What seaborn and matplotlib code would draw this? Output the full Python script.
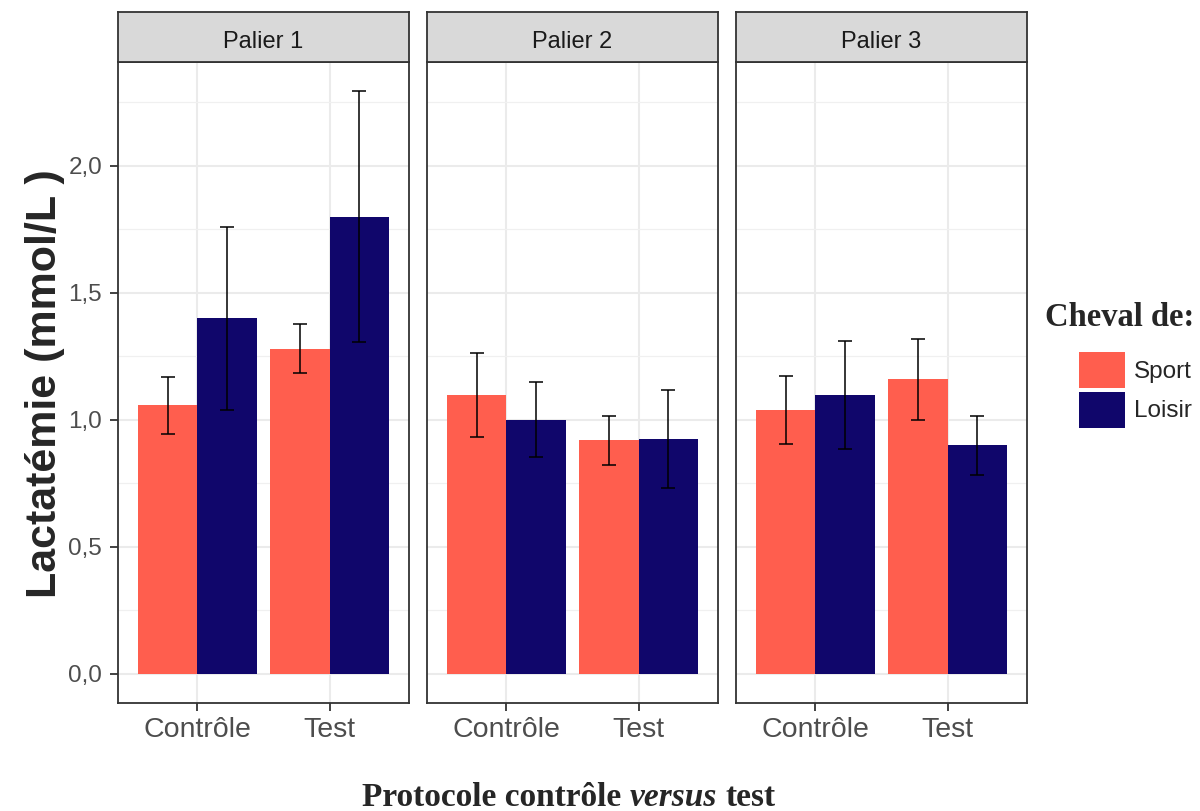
import pandas as pd
import matplotlib
matplotlib.use('Agg')
import matplotlib.pyplot as plt
import seaborn as sns
from matplotlib.patches import Patch
from matplotlib.ticker import MultipleLocator, FuncFormatter

paliers = ['Palier 1', 'Palier 2', 'Palier 3']
protocoles = ['Contrôle', 'Test']
chevaux = ['Sport', 'Loisir']

# one value per (palier, protocole): P1 ctrl, P1 test, P2 ctrl, P2 test, P3 ctrl, P3 test
sport_mean = [1.058, 1.280, 1.098, 0.920, 1.038, 1.160]
sport_err = [0.112, 0.096, 0.166, 0.097, 0.133, 0.159]
loisir_mean = [1.400, 1.800, 1.000, 0.925, 1.098, 0.899]
loisir_err = [0.360, 0.495, 0.148, 0.194, 0.211, 0.115]

rows = []
for k in range(6):
    pal = paliers[k // 2]
    prot = protocoles[k % 2]
    rows.append((pal, prot, 'Sport', sport_mean[k], sport_err[k]))
    rows.append((pal, prot, 'Loisir', loisir_mean[k], loisir_err[k]))
df = pd.DataFrame(rows, columns=['Palier', 'Protocole', 'Cheval', 'Lactatemie', 'Err'])

palette = {'Sport': '#FF5E4E', 'Loisir': '#10066B'}

sns.set_style('white')
plt.rcParams['font.family'] = ['Liberation Sans', 'DejaVu Sans']

W, H = 1200, 811
fig = plt.figure(figsize=(12, 8.11), dpi=100)

panel_x = [118, 427, 736]
panel_w = 291
panel_top, panel_bot = 62, 703
strip_top = 12

axes = []
for i, pal in enumerate(paliers):
    l = panel_x[i] / W
    ax = fig.add_axes([l, 1 - panel_bot / H, panel_w / W, (panel_bot - panel_top) / H])
    sub = df[df['Palier'] == pal]
    sns.barplot(data=sub, x='Protocole', y='Lactatemie', hue='Cheval', order=protocoles,
                hue_order=chevaux, palette=palette, errorbar=None, width=0.9,
                saturation=1, linewidth=0, legend=False, ax=ax, zorder=2)
    for cont, cheval in zip(ax.containers, chevaux):
        s = sub[sub['Cheval'] == cheval].set_index('Protocole').loc[protocoles]
        xs = [p.get_x() + p.get_width() / 2 for p in cont]
        ax.errorbar(xs, s['Lactatemie'], yerr=s['Err'], fmt='none', ecolor='black',
                    elinewidth=1.1, capsize=5, capthick=1.1, zorder=3)
    ax.set_xlim(-0.6, 1.6)
    ax.set_ylim(-0.115, 2.409)
    ax.yaxis.set_major_locator(MultipleLocator(0.5))
    ax.yaxis.set_minor_locator(MultipleLocator(0.25))
    ax.yaxis.set_major_formatter(FuncFormatter(lambda v, p: f'{v:.1f}'.replace('.', ',')))
    ax.set_axisbelow(True)
    ax.grid(which='major', axis='both', color='#EBEBEB', lw=1.5, zorder=0)
    ax.grid(which='minor', axis='y', color='#F0F0F0', lw=0.9, zorder=0)
    ax.set_xlabel('')
    ax.set_ylabel('')
    for sp in ax.spines.values():
        sp.set_visible(True)
        sp.set_color('#333333')
        sp.set_linewidth(1.3)
    ax.tick_params(axis='x', which='major', bottom=True, length=6, width=1.3,
                   color='#333333', labelcolor='#4D4D4D', labelsize=20.5, pad=4)
    ax.tick_params(axis='y', which='major', left=True, length=6, width=1.3,
                   color='#333333', labelcolor='#4D4D4D', labelsize=17.5, pad=5.5)
    ax.tick_params(axis='y', which='minor', left=False, length=0)
    if i > 0:
        ax.tick_params(axis='y', which='major', left=False, labelleft=False)
    axes.append(ax)

    sax = fig.add_axes([l, 1 - panel_top / H, panel_w / W, (panel_top - strip_top) / H])
    sax.set_facecolor('#D9D9D9')
    sax.set_xticks([])
    sax.set_yticks([])
    for sp in sax.spines.values():
        sp.set_color('#333333')
        sp.set_linewidth(1.3)
    sax.text(0.5, 0.28, pal, ha='center', va='baseline', fontsize=17, color='#1A1A1A',
             transform=sax.transAxes)

fig.text(45 / W, 1 - 384 / H, 'Lactatémie (mmol/L )', rotation=90, fontsize=31,
         fontweight='bold', ha='center', va='center')

serif = ['Liberation Serif', 'DejaVu Serif']
t1 = fig.text(362 / W, 1 - 797 / H, 'Protocole contrôle', family=serif, fontweight='bold',
              fontsize=24, ha='left', va='center')
t2 = axes[1].annotate('versus', xy=(1, 0.5), xycoords=t1, xytext=(6, 0),
                      textcoords='offset points', family=serif, fontweight='bold',
                      style='italic', fontsize=24, ha='left', va='center',
                      annotation_clip=False)
axes[1].annotate('test', xy=(1, 0.5), xycoords=t2, xytext=(6, 0),
                 textcoords='offset points', family=serif, fontweight='bold',
                 fontsize=24, ha='left', va='center', annotation_clip=False)

fig.text(1045 / W, 1 - 318 / H, 'Cheval de:', family=serif, fontweight='bold',
         fontsize=23.5, ha='left', va='center')
handles = [Patch(facecolor=palette[c], edgecolor='none') for c in chevaux]
fig.legend(handles, chevaux, loc='upper left', bbox_to_anchor=(1079 / W, 1 - 352 / H),
           frameon=False, borderpad=0, borderaxespad=0, fontsize=17.5,
           handlelength=1.9, handleheight=1.9, handletextpad=0.35, labelspacing=0.15)

fig.savefig('out.png', dpi=100)
